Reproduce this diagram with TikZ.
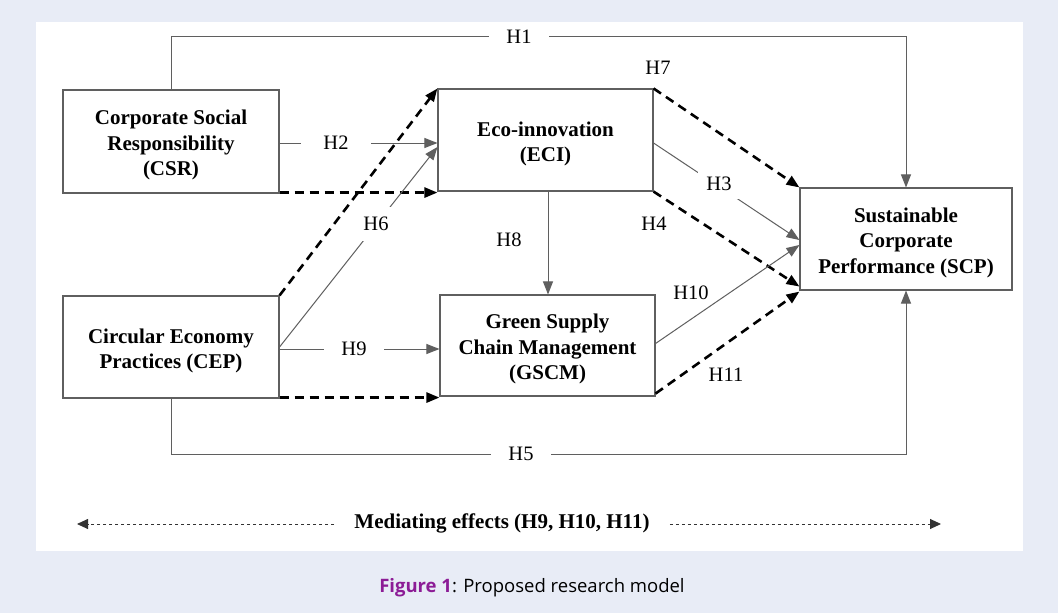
\documentclass[tikz,border=0pt]{standalone}
\usepackage{fontspec}
\setmainfont{Liberation Serif}
\newfontfamily\capfont{Open Sans}
\usetikzlibrary{arrows.meta,calc}
\definecolor{pagebg}{RGB}{232,236,246}
\definecolor{figpurple}{RGB}{140,28,150}
\definecolor{linegray}{RGB}{95,95,95}
\newcommand{\dn}{\rule{0pt}{22pt}}
\tikzset{
  box/.style={draw=linegray,line width=1.1pt,rectangle,align=center,inner sep=0pt,
    font=\fontsize{21}{25.5}\selectfont\bfseries},
  lab/.style={font=\fontsize{20.5}{22}\selectfont,inner sep=1pt},
  labgap/.style={lab,fill=white,inner xsep=17pt,inner ysep=3pt},
  tip/.style={-{Triangle[length=13pt,width=10pt]}},
  solidarrow/.style={tip,draw=linegray,line width=1pt},
  dasharrow/.style={tip,draw=black,line width=2.6pt,dash pattern=on 9pt off 6pt},
  medline/.style={draw=black!80,line width=0.9pt,dash pattern=on 3.5pt off 2.5pt,
    -{Triangle[length=11pt,width=10pt]}}
}
\begin{document}
\begin{tikzpicture}[x=1pt,y=-1pt]
\fill[pagebg] (0,0) rectangle (1058,613);
\useasboundingbox (0,0) rectangle (1058,613);
\fill[white] (36,22) rectangle (1023,551);

% boxes
\node[box,minimum width=216pt,minimum height=103pt] (csr) at (171,141.5) {\dn Corporate Social\\Responsibility\\(CSR)};
\node[box,minimum width=215pt,minimum height=102pt] (eci) at (545.5,140) {\dn Eco-innovation\\(ECI)};
\node[box,minimum width=216pt,minimum height=102pt] (cep) at (171,347) {\dn Circular Economy\\Practices (CEP)};
\node[box,minimum width=215pt,minimum height=101pt] (gscm) at (547.5,345.5) {\dn Green Supply\\Chain Management\\(GSCM)};
\node[box,minimum width=212pt,minimum height=102pt] (scp) at (906,239) {\dn Sustainable\\Corporate\\Performance (SCP)};

% H1
\draw[solidarrow] (csr.north) -- ++(0,-53) coordinate (h1a) -| (scp.north);
\node[labgap] (h1) at (519,37) {H1};
% H5
\draw[solidarrow] (cep.south) -- ++(0,56) coordinate (h5a) -| (scp.south);
\node[labgap] (h5) at (521,454) {H5};

% H2
\draw[solidarrow] ($(csr.east)+(0,1.5)$) -- ($(csr.east -| eci.west)+(0,1.5)$);
\node[labgap,inner xsep=22pt] (h2) at (336,143) {H2};
% dashed CSR -> ECI
\draw[dasharrow] ($(csr.south east)+(0,-1)$) -- ($(csr.south east -| eci.west)+(0,-1)$);

% H9
\draw[solidarrow] ($(cep.east)+(0,2)$) -- ($(cep.east -| gscm.west)+(0,2)$);
\node[labgap] (h9) at (354,349) {H9};
% dashed CEP -> GSCM
\draw[dasharrow] ($(cep.south east)+(0,-1)$) -- ($(cep.south east -| gscm.west)+(0,-1)$);

% dashed CEP -> ECI
\draw[dasharrow] (cep.north east) -- (eci.north west);
% H6
\draw[solidarrow] (cep.east) -- ($(eci.west)+(0,7)$);
\node[labgap,inner xsep=4pt,inner ysep=10pt] (h6) at (376,224) {H6};

% H8
\draw[solidarrow] ($(eci.south)+(2.5,0)$) -- ($(eci.south |- gscm.north)+(2.5,0)$);
\node[lab] (h8) at (509,240) {H8};

% H7
\draw[dasharrow] (eci.north east) -- (scp.north west);
\node[lab] (h7) at (658,68) {H7};

% H3
\draw[solidarrow] ($(eci.east)+(0,3)$) -- ($(scp.west)+(0,1)$);
\node[labgap,inner xsep=8pt,inner ysep=8pt] (h3) at (719,184) {H3};

% H4
\draw[dasharrow] (eci.south east) -- ($(scp.south west)+(0,-4)$);
\node[lab] (h4) at (654,224) {H4};

% H10
\draw[solidarrow] ($(gscm.east)+(0,-2)$) -- ($(scp.west)+(0,6)$);
\node[lab] (h10) at (691,293) {H10};

% H11
\draw[dasharrow] ($(gscm.south east)+(0,-3)$) -- ($(scp.south west)+(0,1)$);
\node[lab] (h11) at (726,375) {H11};

% mediating effects
\node[font=\fontsize{21}{24}\selectfont\bfseries,inner xsep=20pt,inner ysep=2pt] (med) at (502,523) {Mediating effects (H9, H10, H11)};
\coordinate (mL) at (77,524);
\coordinate (mR) at (941,524);
\draw[medline] (med.west |- mL) -- (mL);
\draw[medline] (med.east |- mR) -- (mR);

% caption
\node[font=\capfont\fontsize{18.5}{21}\selectfont,inner sep=0pt] (cap) at (532,588)
  {{\bfseries\color{figpurple}Figure 1}: Proposed research model};
\end{tikzpicture}
\end{document}
